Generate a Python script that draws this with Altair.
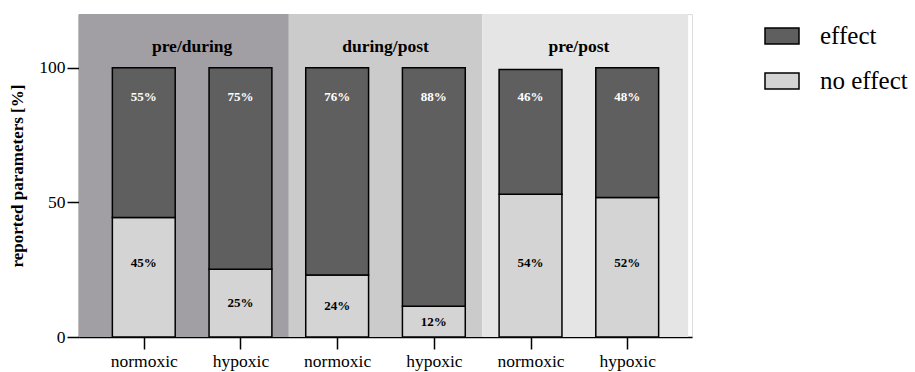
import altair as alt
import pandas as pd

groups = ["pre/during", "during/post", "pre/post"]
conditions = ["normoxic", "hypoxic", "normoxic", "hypoxic", "normoxic", "hypoxic"]
no_effect = [44.4, 25.2, 23.0, 11.4, 53.0, 51.8]
effect = [55.6, 74.8, 77.0, 88.6, 46.4, 48.2]
no_effect_labels = ["45%", "25%", "24%", "12%", "54%", "52%"]
effect_labels = ["55%", "75%", "76%", "88%", "46%", "48%"]
series = ["effect", "no effect"]

PAD = 0.17
HALF = 0.325
XMAX = 6.34
YMAX = 120
FONT = "Times New Roman, Liberation Serif, serif"

rows = []
for i, c in enumerate(conditions):
    pos = PAD + 0.5 + i
    ne = no_effect[i]
    ef = effect[i]
    rows.append(dict(x=pos - HALF, x2=pos + HALF, xc=pos, y=0, y2=ne, s="no effect",
                     lab=no_effect_labels[i], ly=27.5 if ne >= 40 else ne / 2, tc="black"))
    rows.append(dict(x=pos - HALF, x2=pos + HALF, xc=pos, y=ne, y2=ne + ef, s="effect",
                     lab=effect_labels[i], ly=89, tc="white"))
bars = pd.DataFrame(rows)

bg_colors = ["#a19fa4", "#cbcbcb", "#e5e5e5"]
n_g = len(groups)
bg = pd.DataFrame([
    dict(g=g,
         x=0 if k == 0 else 2 * k + PAD,
         x2=6.3 if k == n_g - 1 else 2 * k + 2 + PAD,
         xc=2 * k + 1 + PAD,
         y=0, y2=YMAX, ty=107.8, col=bg_colors[k])
    for k, g in enumerate(groups)
])

xscale = alt.Scale(domain=[0, XMAX], nice=False, zero=False)
yscale = alt.Scale(domain=[0, YMAX], nice=False)

tick_vals = [PAD + 0.5 + i for i in range(len(conditions))]
label_expr = "round(datum.value - %f) %% 2 == 0 ? 'normoxic' : 'hypoxic'" % (PAD + 0.5)

xaxis = alt.Axis(values=tick_vals, labelExpr=label_expr, title=None, grid=False,
                 domainColor="black", domainWidth=1.5, tickColor="black", tickWidth=1.5,
                 tickSize=12, labelFontSize=17.5, labelFont=FONT, labelColor="black",
                 labelPadding=3)
yaxis = alt.Axis(values=[0, 50, 100], title="reported parameters [%]", grid=False,
                 domainColor="black", domainWidth=1.5, tickColor="black", tickWidth=1.5,
                 tickSize=12, labelFontSize=17.5, labelFont=FONT, labelColor="black",
                 labelPadding=2, titleFont=FONT, titleFontSize=17, titleFontWeight="bold",
                 titleColor="black", titlePadding=12)

background = alt.Chart(bg).mark_rect().encode(
    x=alt.X("x:Q", scale=xscale, axis=xaxis),
    x2="x2:Q",
    y=alt.Y("y:Q", scale=yscale, axis=yaxis),
    y2="y2:Q",
    color=alt.Color("col:N", scale=None),
)

group_text = alt.Chart(bg).mark_text(font=FONT, fontSize=17.5, fontWeight="bold",
                                     color="black", baseline="middle").encode(
    x=alt.X("xc:Q", scale=xscale),
    y=alt.Y("ty:Q", scale=yscale),
    text="g:N",
)

bar_layer = alt.Chart(bars).mark_rect(stroke="black", strokeWidth=1.5).encode(
    x=alt.X("x:Q", scale=xscale),
    x2="x2:Q",
    y=alt.Y("y:Q", scale=yscale),
    y2="y2:Q",
    color=alt.Color("s:N",
                    scale=alt.Scale(domain=series, range=["#5f5f5f", "#d4d4d4"]),
                    legend=alt.Legend(title=None, orient="none", legendX=685, legendY=4,
                                      symbolType="M-1,-0.47H1V0.47H-1Z", symbolSize=1156,
                                      symbolStrokeColor="black", symbolStrokeWidth=1.5,
                                      labelFont=FONT, labelFontSize=25, labelColor="black",
                                      labelOffset=20, rowPadding=14, labelLimit=300)),
)

bar_text = alt.Chart(bars).mark_text(font=FONT, fontSize=13, fontWeight="bold",
                                     baseline="middle").encode(
    x=alt.X("xc:Q", scale=xscale),
    y=alt.Y("ly:Q", scale=yscale),
    text="lab:N",
    color=alt.Color("tc:N", scale=None),
)

chart = alt.layer(background, group_text, bar_layer, bar_text).properties(
    width=613, height=323,
    autosize=alt.AutoSizeParams(type="none"),
    padding={"left": 79, "top": 14, "right": 223, "bottom": 35},
).configure_view(stroke=None).configure(background="white")

chart.save("out.html", embed_options={"renderer": "svg", "actions": False})
